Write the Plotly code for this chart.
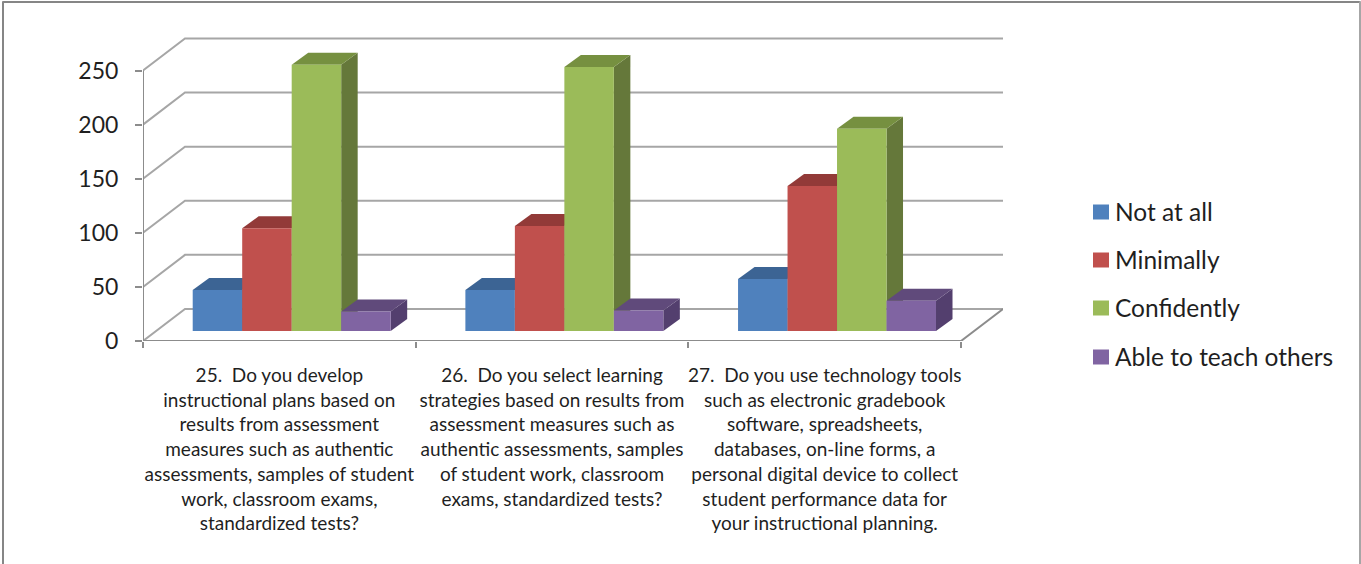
import plotly.graph_objects as go

# ---------- data ----------
categories = [
    ["25.\u00a0 Do you develop", "instructional plans based on", "results from assessment",
     "measures such as authentic", "assessments, samples of student", "work, classroom exams,",
     "standardized tests?"],
    ["26.\u00a0 Do you select learning", "strategies based on results from", "assessment measures such as",
     "authentic assessments, samples", "of student work, classroom", "exams, standardized tests?"],
    ["27.\u00a0 Do you use technology tools", "such as electronic gradebook", "software, spreadsheets,",
     "databases, on-line forms, a", "personal digital device to collect", "student performance data for",
     "your instructional planning."],
]
not_at_all = [38, 38, 48]
minimally = [95, 97, 134]
confidently = [246, 244, 187]
able_to_teach = [18, 19, 28]
series_names = ["Not at all", "Minimally", "Confidently", "Able to teach others"]
y_ticks = [0, 50, 100, 150, 200, 250]

# ---------- style ----------
front_colors = ["#4F81BD", "#C0504D", "#9BBB59", "#8064A2"]
top_colors = ["#3C6494", "#923A38", "#769040", "#604A7B"]
side_colors = ["#33557F", "#7C3130", "#65783A", "#533F6E"]
GRID = "#A6A6A6"
AXIS = "#8C8C8C"
FONT = "Lato"
TEXT = "#1F1F1F"

W, H = 1361, 564
L, R, T, B = 143, 1003, 37, 341
CAT_PX = 272.67
UNIT_PX = 1.082
WALL_DX = (R - L) / CAT_PX - 3          # wall depth, category units
WALL_DY = 29.6                          # wall depth, value units
BAR_X0 = 0.1823
BAR_W = 0.1815
BAR_FLOOR = 9.2
BAR_DX = 16.5 / CAT_PX
BAR_DY = 12.0 / UNIT_PX

ymax = (B - T) / UNIT_PX


def px(x):
    return (x - L) / (R - L)


def py(y):
    return (B - y) / (B - T)


fig = go.Figure()


def poly(xs, ys, color):
    fig.add_trace(go.Scatter(x=xs + xs[:1], y=ys + ys[:1], mode="lines", fill="toself",
                             fillcolor=color, line=dict(width=0, color=color),
                             hoverinfo="skip", showlegend=False, cliponaxis=False))


def line(xs, ys, color=GRID, width=2):
    fig.add_trace(go.Scatter(x=xs, y=ys, mode="lines", line=dict(color=color, width=width),
                             hoverinfo="skip", showlegend=False, cliponaxis=False))


# walls
for t in y_ticks:
    line([0, WALL_DX, 3 + WALL_DX], [t, t + WALL_DY, t + WALL_DY])
line([0, 0], [0, y_ticks[-1]], AXIS)
line([0, 3, 3 + WALL_DX], [0, 0, WALL_DY], AXIS)

# bars
all_series = [not_at_all, minimally, confidently, able_to_teach]
for c in range(3):
    for s, vals in enumerate(all_series):
        x0 = c + BAR_X0 + s * BAR_W
        x1 = x0 + BAR_W
        y0 = BAR_FLOOR
        y1 = BAR_FLOOR + vals[c]
        poly([x1, x1 + BAR_DX, x1 + BAR_DX, x1], [y0, y0 + BAR_DY, y1 + BAR_DY, y1], side_colors[s])
        poly([x0, x0 + BAR_DX, x1 + BAR_DX, x1], [y1, y1 + BAR_DY, y1 + BAR_DY, y1], top_colors[s])
        poly([x0, x1, x1, x0], [y0, y0, y1, y1], front_colors[s])

shapes = [
    dict(type="line", xref="paper", yref="paper", x0=px(3), x1=px(3), y0=py(1.5), y1=py(564),
         line=dict(color="#868686", width=2)),
    dict(type="line", xref="paper", yref="paper", x0=px(2.5), x1=px(1360.5), y0=py(2), y1=py(2),
         line=dict(color="#868686", width=2)),
    dict(type="line", xref="paper", yref="paper", x0=px(1360), x1=px(1360), y0=py(1.5), y1=py(564),
         line=dict(color="#A6A6A6", width=2)),
]
annotations = []
legend_y = [212, 260, 308, 357]
for name, col, ly in zip(series_names, front_colors, legend_y):
    shapes.append(dict(type="rect", xref="paper", yref="paper", x0=px(1093), x1=px(1109),
                       y0=py(ly - 7.5), y1=py(ly + 7.5), fillcolor=col, line=dict(width=0)))
    annotations.append(dict(xref="paper", yref="paper", x=px(1113), y=py(ly - 0.5), text=name,
                            showarrow=False, xanchor="left", yanchor="middle",
                            font=dict(family=FONT, size=24.5, color=TEXT)))

fig.update_layout(
    width=W, height=H, autosize=False,
    margin=dict(l=L, r=W - R, t=T, b=H - B, pad=0),
    paper_bgcolor="white", plot_bgcolor="rgba(0,0,0,0)",
    showlegend=False, shapes=shapes, annotations=annotations,
    xaxis=dict(range=[0, 3 + WALL_DX], showgrid=False, zeroline=False, showline=False,
               tickmode="array", tickvals=[0.5, 1.5, 2.5],
               ticktext=["<br>".join(c) for c in categories],
               ticks="", ticklabelstandoff=21,
               tickfont=dict(family=FONT, size=19, color=TEXT), tickangle=0,
               minor=dict(tick0=0, dtick=1, ticks="outside", ticklen=6, tickwidth=2,
                          tickcolor=AXIS, showgrid=False)),
    yaxis=dict(range=[0, ymax], showgrid=False, zeroline=False, showline=False,
               tickmode="array", tickvals=y_ticks, ticks="outside", ticklen=7, tickwidth=2,
               tickcolor=AXIS, ticklabelstandoff=12,
               tickfont=dict(family=FONT, size=23, color=TEXT)),
)
fig.write_html("out.html", config=dict(displayModeBar=False),
               post_script="document.body.style.margin='0';")
